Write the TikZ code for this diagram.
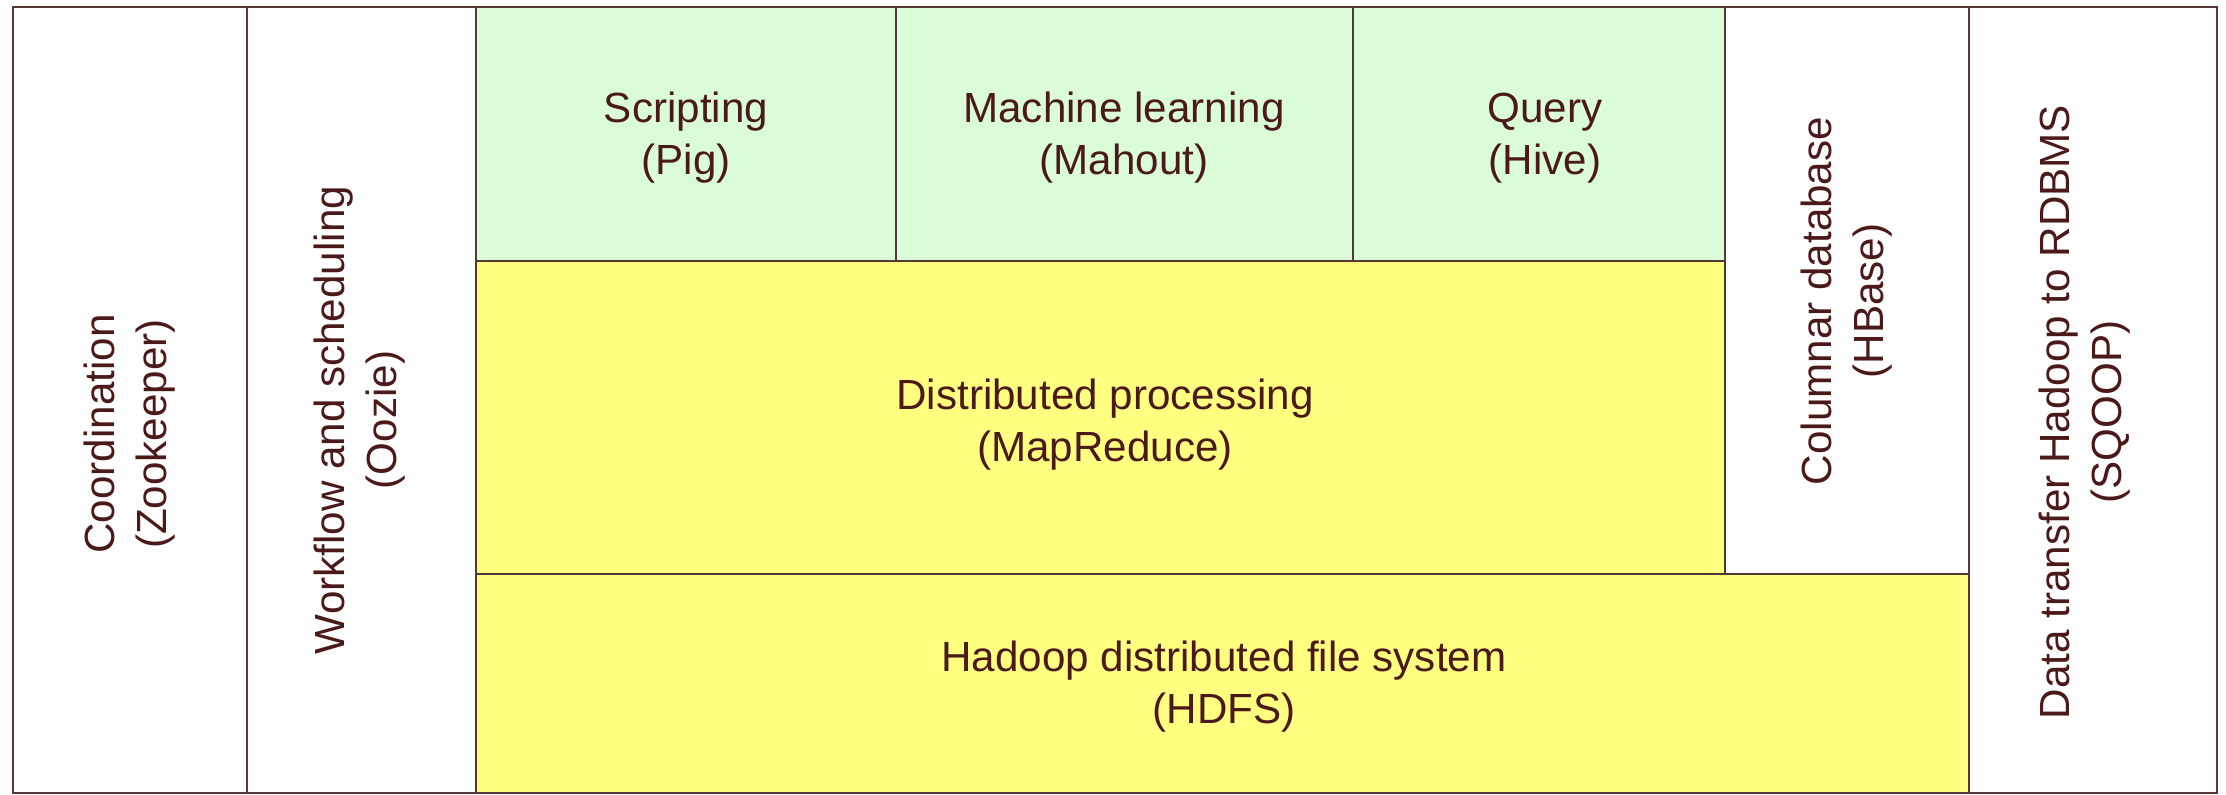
\documentclass[tikz,border=0pt]{standalone}
\usepackage{fontspec}
\setmainfont{Liberation Sans}
\usepackage{tikz}

\definecolor{toolgreen}{RGB}{218,253,216}
\definecolor{toolyellow}{RGB}{255,255,128}
\definecolor{edgegray}{RGB}{85,55,55}
\definecolor{labelbrown}{RGB}{75,25,25}

\begin{document}
\begin{tikzpicture}
          [layer/.style={draw=edgegray,line width=0.6pt},
           every node/.style={text=labelbrown,align=center,inner sep=0pt,
                              font=\fontsize{12}{14.8}\selectfont}]
          \useasboundingbox (0,0) rectangle (22.26,7.95);

          % side columns
          \draw[layer,fill=white] (0.13,0.02) rectangle (2.47,7.88);
          \draw[layer,fill=white] (2.47,0.02) rectangle (4.76,7.88);
          \draw[layer,fill=white] (19.69,0.02) rectangle (22.17,7.88);
          \draw[layer,fill=white] (17.25,2.21) rectangle (19.69,7.88);

          % middle stack
          \draw[layer,fill=toolgreen] (4.76,5.34) rectangle (8.96,7.88);
          \draw[layer,fill=toolgreen] (8.96,5.34) rectangle (13.53,7.88);
          \draw[layer,fill=toolgreen] (13.53,5.34) rectangle (17.25,7.88);
          \draw[layer,fill=toolyellow] (4.76,2.21) rectangle (17.25,5.34);
          \draw[layer,fill=toolyellow] (4.76,0.02) rectangle (19.69,2.21);

          \node (zk) at (1.30,3.61) [rotate=90] {Coordination\\(Zookeeper)};
          \node (oozie) at (3.60,3.75) [rotate=90] {Workflow and scheduling\\(Oozie)};
          \node (pig) at (6.86,6.57) {Scripting\\(Pig)};
          \node (mahout) at (11.24,6.57) {Machine learning\\(Mahout)};
          \node (hive) at (15.45,6.57) {Query\\(Hive)};
          \node (mr) at (11.05,3.70) {Distributed processing\\(MapReduce)};
          \node (hbase) at (18.47,4.94) [rotate=90] {Columnar database\\(HBase)};
          \node (hdfs) at (12.24,1.08) {Hadoop distributed file system\\(HDFS)};
          \node (sqoop) at (20.85,3.83) [rotate=90] {Data transfer Hadoop to RDBMS\\(SQOOP)};

        \end{tikzpicture}
\end{document}
